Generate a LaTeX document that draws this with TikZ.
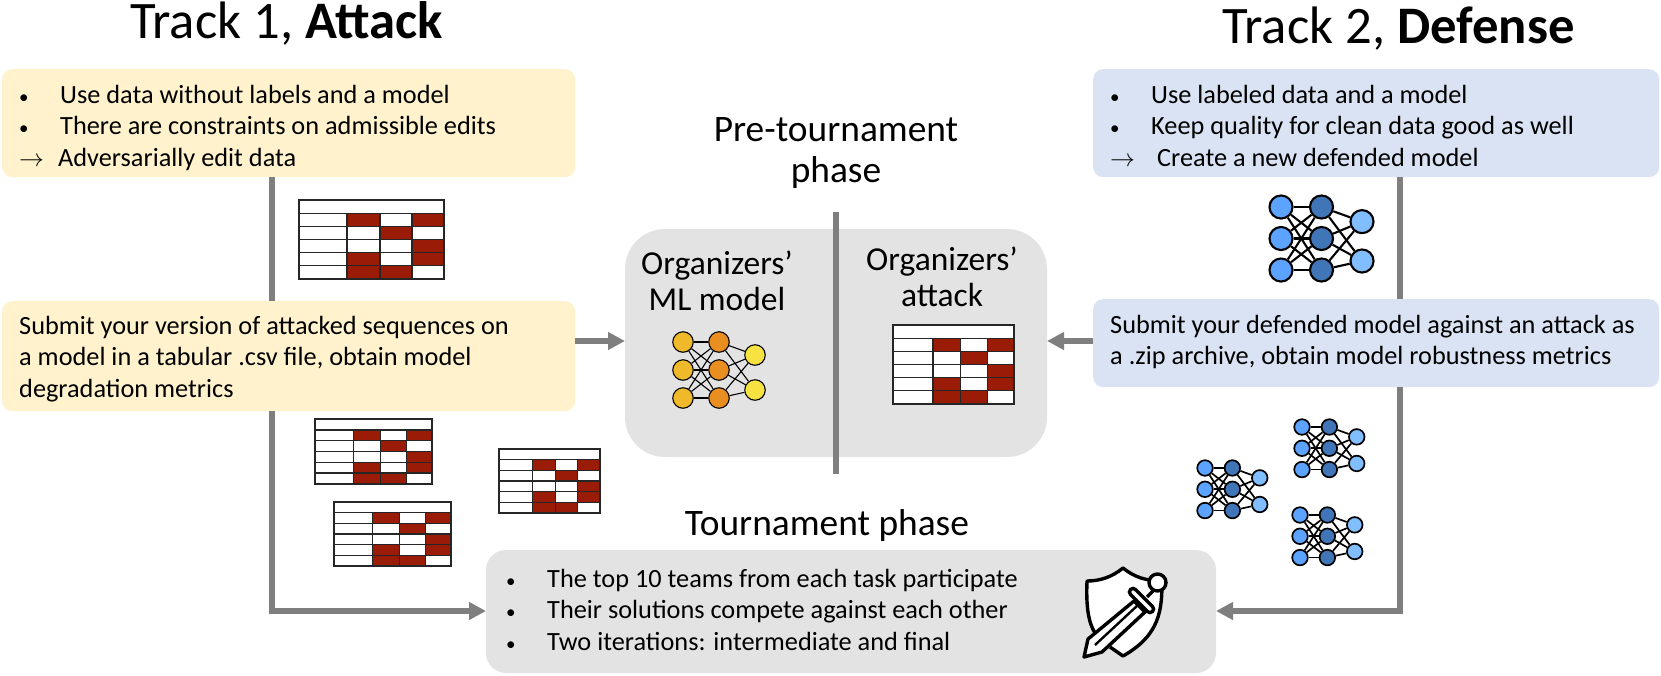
\documentclass[tikz,border=0pt]{standalone}
\usepackage{fontspec}
\setmainfont{Carlito}
\usetikzlibrary{arrows.meta}
\definecolor{yel}{HTML}{FFF2CC}
\definecolor{blu}{HTML}{DAE3F3}
\definecolor{gry}{HTML}{E3E3E3}
\definecolor{lin}{HTML}{7F7F7F}
\definecolor{redc}{HTML}{9A1C06}
\definecolor{oa}{HTML}{F0B92B}
\definecolor{ob}{HTML}{E98F22}
\definecolor{oc}{HTML}{F6E342}
\definecolor{ba}{HTML}{5BA3FF}
\definecolor{bb}{HTML}{4076B8}
\definecolor{bc}{HTML}{80BEFF}
\newcommand{\bul}[1]{\makebox[41pt][l]{\fontsize{19}{19}\selectfont •}#1}
\newcommand{\arr}[2]{\makebox[#1][l]{\fontsize{25}{25}\selectfont$\rightarrow$}#2}
\tikzset{
  x=1pt,y=-1pt,
  card/.style={rounded corners=10pt,draw=none,anchor=north west,inner sep=0pt},
  flow/.style={draw=lin,line width=5.5pt},
  flowtip/.style={flow,-{Triangle[length=17pt,width=17pt]}},
  body/.style={anchor=north west,align=left,inner sep=0pt,font=\fontsize{26.3}{31.5}\selectfont},
  head/.style={align=center,inner sep=0pt,font=\fontsize{37.4}{41.3}\selectfont},
  orghead/.style={align=center,inner sep=0pt,font=\fontsize{33.5}{36.5}\selectfont},
  title/.style={anchor=base west,inner sep=0pt,font=\fontsize{52.7}{52.7}\selectfont},
  neuron/.style={circle,draw=black,inner sep=0pt},
  syn/.style={draw=black}
}
% \nnet{name}{x}{y}{scale}{col1}{col2}{col3}{line width}
\newcommand{\nnet}[8]{%
  \begin{scope}[shift={(#2,#3)}]
  \tikzset{neuron/.append style={minimum size=#4*20.5pt,line width=#8}}
  \foreach \i in {0,1,2}{
    \node[neuron,fill=#5] (#1a\i) at (0,#4*28*\i) {};
    \node[neuron,fill=#6] (#1b\i) at (#4*36,#4*28*\i) {};
  }
  \node[neuron,fill=#7] (#1c0) at (#4*72,#4*13) {};
  \node[neuron,fill=#7] (#1c1) at (#4*72,#4*48) {};
  \foreach \i in {0,1,2}{
    \foreach \j in {0,1,2}{\draw[syn,line width=#8] (#1a\i) -- (#1b\j);}
    \foreach \j in {0,1}{\draw[syn,line width=#8] (#1b\i) -- (#1c\j);}
  }
  \end{scope}}
% \tbl{x}{y}{w}{h}
\newcommand{\tbl}[4]{%
  \begin{scope}[shift={(#1,#2)},x=#3*1pt/145,y=-#4*1pt/79]
  \fill[white] (0,0) rectangle (145,79);
  \foreach \cx/\cy/\cw in {48/13.2/33,113/13.2/32,81/26.4/32,113/39.6/32,48/52.8/33,113/52.8/32,48/65.8/33,81/65.8/32}{
    \fill[redc] (\cx,\cy) rectangle +(\cw,13.2);
  }
  \draw[black!85,line width=1.4pt] (0,0) rectangle (145,79);
  \foreach \yy in {13.2,26.4,39.6,52.8,65.8}{\draw[black!85,line width=1.3pt] (0,\yy) -- (145,\yy);}
  \foreach \xx in {48,81,113}{\draw[black!85,line width=1.3pt] (\xx,13.2) -- (\xx,79);}
  \end{scope}}
\begin{document}
\begin{tikzpicture}
\useasboundingbox (0,0) rectangle (1661,675);
% grey panels
\path[fill=gry,rounded corners=40pt] (625,229) rectangle (1047,457);
\path[fill=gry,rounded corners=20pt] (486,550) rectangle (1216,673);
% cards
\node[fill=yel,card,minimum width=573pt,minimum height=108pt] (y1) at (2,69) {};
\node[fill=blu,card,minimum width=566pt,minimum height=108pt] (b1) at (1093,69) {};
\node[fill=yel,card,minimum width=573pt,minimum height=110pt] (y2) at (2,301) {};
\node[fill=blu,card,minimum width=566pt,minimum height=88pt] (b2) at (1093,299) {};
\coordinate (lturn) at (272,611);
\coordinate (rturn) at (1400,611);
\coordinate (tl) at (486,611);
\coordinate (tr) at (1216,611);
\coordinate (cl) at (625,341);
\coordinate (cr) at (1047,341);
\coordinate (ya) at (272,177);
\coordinate (yb) at (272,301);
\coordinate (yc) at (272,411);
\coordinate (pa) at (1400,177);
\coordinate (pb) at (1400,299);
\coordinate (pc) at (1400,387);
\coordinate (ye) at (575,341);
\coordinate (be) at (1093,341);
\coordinate (sa) at (836,212);
\coordinate (sb) at (836,474);
\draw[flow] (ya) -- (yb);
\draw[flow] (pa) -- (pb);
\draw[flowtip] (yc) -- (lturn) -- (tl);
\draw[flowtip] (pc) -- (rturn) -- (tr);
\draw[flowtip] (ye) -- (cl);
\draw[flowtip] (be) -- (cr);
\draw[flow] (sa) -- (sb);
% titles
\node[title] (t1) at (130,38) {Track 1, \textbf{Attack}};
\node[title] (t2) at (1222,43) {Track 2, \textbf{Defense}};
% box text
\node[body] (y1t) at (19,85) {\bul{Use data without labels and a model}\\\bul{There are constraints on admissible edits}\\\arr{39pt}{Adversarially edit data}};
\node[body] (b1t) at (1110,85) {\bul{Use labeled data and a model}\\\bul{Keep quality for clean data good as well}\\\arr{47pt}{Create a new defended model}};
\node[body] (y2t) at (19,316) {Submit your version of attacked sequences on\\a model in a tabular .csv file, obtain model\\degradation metrics};
\node[body] (b2t) at (1110,315) {Submit your defended model against an attack as\\a .zip archive, obtain model robustness metrics};
\node[head] (pre) at (836,153) {Pre-tournament\\phase};
\node[orghead] (om) at (717,281) {Organizers’\\ML model};
\node[orghead] (oat) at (942,277) {Organizers’\\attack};
\node[head] (tp) at (827,526) {Tournament phase};
\node[body] (tt) at (506,569) {\bul{The top 10 teams from each task participate}\\\bul{Their solutions compete against each other}\\\bul{Two iterations: intermediate and final}};
% tables
\tbl{299}{200}{145}{79}
\tbl{893}{325}{121}{79}
\tbl{315}{419}{117}{65}
\tbl{499}{449}{101}{64}
\tbl{334}{502}{117}{64}
% networks
\nnet{o}{683}{342}{1}{oa}{ob}{oc}{1.1pt}
\nnet{p}{1281}{207}{1.125}{ba}{bb}{bc}{2.1pt}
\nnet{q}{1205}{468}{0.76}{ba}{bb}{bc}{1.7pt}
\nnet{r}{1302}{427}{0.76}{ba}{bb}{bc}{1.7pt}
\nnet{s}{1300}{515}{0.76}{ba}{bb}{bc}{1.7pt}
% shield and sword icon
\fill[white]
  (1123,568) .. controls (1112,577) and (1100,581) .. (1087,581)
  .. controls (1086,605) and (1088,622) .. (1095,633) -- (1110,647) -- (1123,656)
  .. controls (1160,635) and (1162,610) .. (1162,581)
  .. controls (1146,581) and (1134,577) .. (1123,568) -- cycle;
\draw[black,line width=3.4pt,line join=round]
  (1095,633) .. controls (1088,622) and (1086,605) .. (1087,581)
  .. controls (1100,581) and (1112,577) .. (1123,568)
  .. controls (1134,577) and (1146,581) .. (1162,581)
  .. controls (1162,610) and (1160,635) .. (1123,656) -- (1110,647);
\draw[black,line width=3.4pt,fill=white,line join=round]
  (1134,601) -- (1145,612) -- (1102,652) -- (1084,657) -- (1088,639) -- cycle;
\draw[black,line width=2.4pt] (1095,645) -- (1138,605);
\draw[black,line width=3.4pt] (1147,597) -- (1153,591);
\draw[black,line width=3.4pt,fill=white,rounded corners=3.5pt] (1133,587) -- (1155,609) -- (1150,614) -- (1128,592) -- cycle;
\draw[black,line width=3.4pt,fill=white] (1157.5,582.5) circle (8.5pt);
\end{tikzpicture}
\end{document}
